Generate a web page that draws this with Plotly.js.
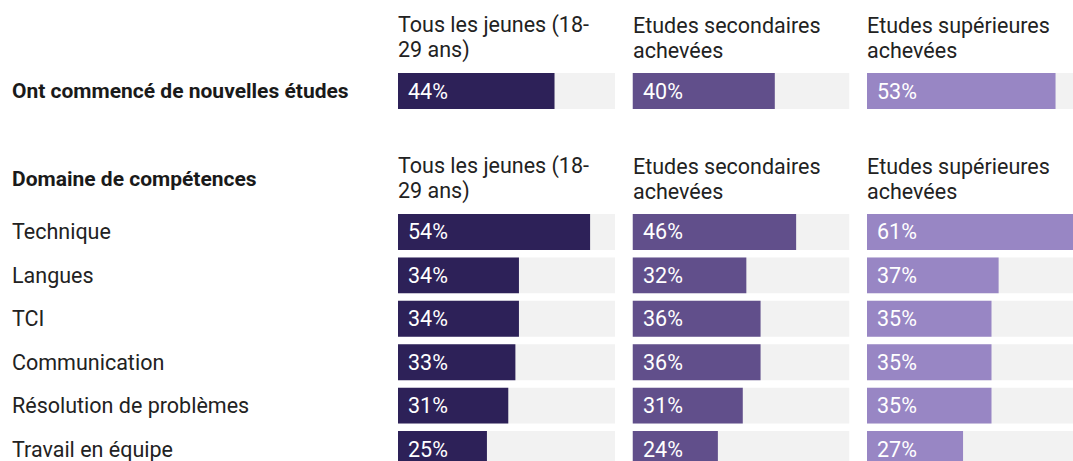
<!DOCTYPE html>
<html><head><meta charset="utf-8">
<script src="https://cdn.plot.ly/plotly-3.0.1.min.js"></script>
<style>html,body{margin:0;padding:0;overflow:hidden;background:#fff}</style>
</head><body><div id="chart"></div>
<script>
// ---- data ----
const groupNames = ["Tous les jeunes (18-<br>29 ans)", "Etudes secondaires<br>achevées", "Etudes supérieures<br>achevées"];
const topLabel = "Ont commencé de nouvelles études";
const topValues = [44, 40, 53];
const skillsTitle = "Domaine de compétences";
const skills = ["Technique", "Langues", "TCI", "Communication", "Résolution de problèmes", "Travail en équipe"];
const allYouth = [54, 34, 34, 33, 31, 25];
const secondary = [46, 32, 36, 36, 31, 24];
const tertiary = [61, 37, 35, 35, 35, 27];

// ---- styling ----
const colors = ["#2d2158", "#614f8b", "#9886c4"];
const bgColor = "#f2f2f2";
const W = 1090, H = 480;
const FONT = "Roboto, 'Noto Sans', sans-serif";
const FS = 21.5;
const skillSeries = [allYouth, secondary, tertiary];
const maxVal = Math.max(...topValues, ...allYouth, ...secondary, ...tertiary);

const xDomains = [[398/W, 615/W], [632.5/W, 849.5/W], [867/W, 1084/W]];
const yTopDomain = [1 - 112.75/H, 1 - 69.25/H];
const ySkillDomain = [1 - 470.75/H, 1 - 210.25/H];

const traces = [];
const annotations = [];
groupNames.forEach((g, c) => {
  const xa = c === 0 ? 'x' : 'x' + (c + 1);
  // top section
  traces.push({type: 'bar', orientation: 'h', xaxis: xa, yaxis: 'y', y: [topLabel], x: [maxVal],
    marker: {color: bgColor}, hoverinfo: 'skip', showlegend: false});
  traces.push({type: 'bar', orientation: 'h', xaxis: xa, yaxis: 'y', y: [topLabel], x: [topValues[c]],
    marker: {color: colors[c]}, showlegend: false});
  // skills section
  traces.push({type: 'bar', orientation: 'h', xaxis: xa, yaxis: 'y2', y: skills, x: skills.map(() => maxVal),
    marker: {color: bgColor}, hoverinfo: 'skip', showlegend: false});
  traces.push({type: 'bar', orientation: 'h', xaxis: xa, yaxis: 'y2', y: skills, x: skillSeries[c],
    marker: {color: colors[c]}, showlegend: false});

  // value labels
  annotations.push({xref: xa, yref: 'y', x: 0, y: topLabel, xanchor: 'left', xshift: 8, showarrow: false,
    text: topValues[c] + '%', font: {family: FONT, size: FS, color: '#ffffff'}});
  skills.forEach((s, i) => {
    annotations.push({xref: xa, yref: 'y2', x: 0, y: s, xanchor: 'left', xshift: 8, showarrow: false,
      text: skillSeries[c][i] + '%', font: {family: FONT, size: FS, color: '#ffffff'}});
  });
  // headers (each line placed separately for tighter line spacing)
  const lines = g.split('<br>');
  ['y domain', 'y2 domain'].forEach(yr => {
    lines.forEach((ln, k) => {
      annotations.push({xref: xa + ' domain', yref: yr, x: 0, y: 1, xanchor: 'left', yanchor: 'middle', align: 'left',
        yshift: 19 + 25 * (lines.length - 1 - k), xshift: -2, showarrow: false, text: ln,
        font: {family: FONT, size: FS, color: '#222222'}});
    });
  });
});

// left labels
annotations.push({xref: 'paper', yref: 'y', x: 10/W, y: topLabel, xanchor: 'left', showarrow: false,
  text: '<b>' + topLabel + '</b>', font: {family: FONT, size: 21, color: '#1a1a1a'}});
annotations.push({xref: 'paper', yref: 'y2 domain', x: 10/W, y: 1, yanchor: 'middle', yshift: 31, xanchor: 'left', showarrow: false,
  text: '<b>' + skillsTitle + '</b>', font: {family: FONT, size: 21, color: '#1a1a1a'}});
skills.forEach(s => {
  annotations.push({xref: 'paper', yref: 'y2', x: 10/W, y: s, xanchor: 'left', showarrow: false,
    text: s, font: {family: FONT, size: FS, color: '#222222'}});
});

const layout = {
  width: W, height: H,
  margin: {l: 0, r: 0, t: 0, b: 0},
  paper_bgcolor: '#fff', plot_bgcolor: '#fff',
  barmode: 'overlay', bargap: 0.172,
  showlegend: false,
  font: {family: FONT},
  yaxis: {domain: yTopDomain, type: 'category', visible: false, fixedrange: true},
  yaxis2: {domain: ySkillDomain, type: 'category', visible: false, autorange: 'reversed', anchor: 'x', fixedrange: true},
  annotations: annotations
};
xDomains.forEach((d, c) => {
  const key = c === 0 ? 'xaxis' : 'xaxis' + (c + 1);
  layout[key] = {domain: d, range: [0, maxVal], visible: false, fixedrange: true, anchor: 'y2'};
});

Plotly.newPlot('chart', traces, layout, {displayModeBar: false, staticPlot: true});
</script>
</body></html>
